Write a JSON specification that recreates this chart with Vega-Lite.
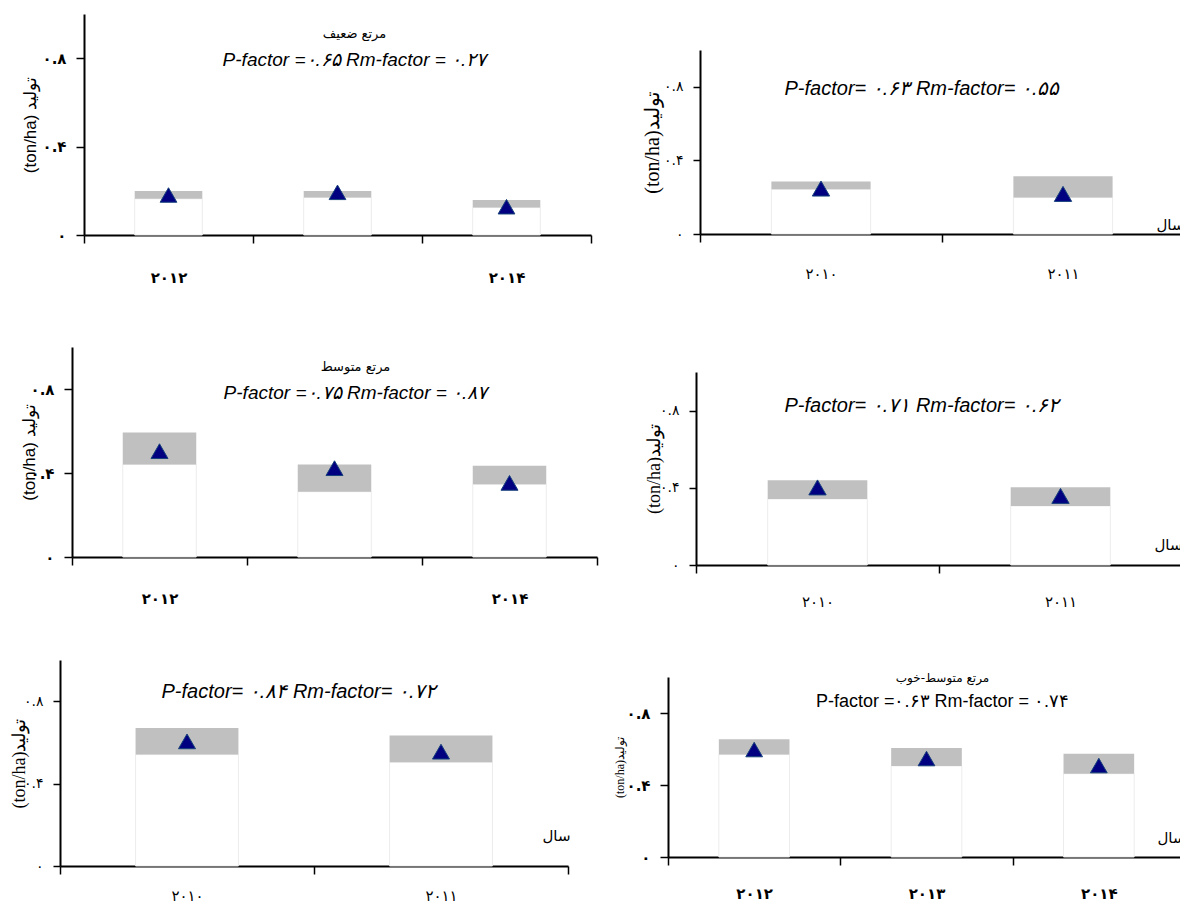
{
  "$schema": "https://vega.github.io/schema/vega-lite/v6.json",
  "padding": {"left": 10, "top": 14, "right": 0, "bottom": 0},
  "background": "white",
  "datasets": {
    "p1": [
      {"year": "۲۰۱۲", "lo": 0.164, "hi": 0.199, "obs": 0.181},
      {"year": "۲۰۱۳", "lo": 0.170, "hi": 0.199, "obs": 0.193},
      {"year": "۲۰۱۴", "lo": 0.124, "hi": 0.158, "obs": 0.128}
    ],
    "p2": [
      {"year": "۲۰۱۰", "lo": 0.243, "hi": 0.286, "obs": 0.247},
      {"year": "۲۰۱۱", "lo": 0.198, "hi": 0.314, "obs": 0.218}
    ],
    "p3": [
      {"year": "۲۰۱۲", "lo": 0.441, "hi": 0.593, "obs": 0.504},
      {"year": "۲۰۱۳", "lo": 0.311, "hi": 0.441, "obs": 0.423},
      {"year": "۲۰۱۴", "lo": 0.346, "hi": 0.434, "obs": 0.353}
    ],
    "p4": [
      {"year": "۲۰۱۰", "lo": 0.342, "hi": 0.439, "obs": 0.402},
      {"year": "۲۰۱۱", "lo": 0.306, "hi": 0.403, "obs": 0.358}
    ],
    "p5": [
      {"year": "۲۰۱۰", "lo": 0.541, "hi": 0.670, "obs": 0.605},
      {"year": "۲۰۱۱", "lo": 0.504, "hi": 0.633, "obs": 0.555}
    ],
    "p6": [
      {"year": "۲۰۱۲", "lo": 0.569, "hi": 0.654, "obs": 0.597},
      {"year": "۲۰۱۳", "lo": 0.506, "hi": 0.606, "obs": 0.547},
      {"year": "۲۰۱۴", "lo": 0.463, "hi": 0.574, "obs": 0.508}
    ]
  },
  "columns": 2,
  "align": "each",
  "bounds": "flush",
  "spacing": {"row": 95, "column": 71},
  "concat": [
    {
      "width": 531, "height": 238,
      "data": {"name": "p1"},
      "title": {"text": "مرتع ضعیف", "subtitle": "P-factor =۰.۶۵ Rm-factor = ۰.۲۷", "frame": "group", "anchor": "middle", "offset": -56, "dx": 29, "font": "DejaVu Sans", "fontSize": 13, "fontWeight": "normal", "subtitleFont": "Liberation Sans", "subtitleFontSize": 19, "subtitleFontStyle": "italic", "subtitleColor": "#000", "subtitlePadding": 10},
      "encoding": {
        "x": {"field": "year", "type": "nominal", "sort": null, "scale": {"paddingInner": 0, "paddingOuter": 0, "range": [24, 531]},
          "axis": {"title": null, "offset": -17, "tickBand": "extent", "labelAngle": 0, "labelExpr": "datum.value == '۲۰۱۳' ? '' : datum.label", "labelFont": "DejaVu Sans", "labelFontSize": 15, "labelFontWeight": "bold", "labelPadding": 27}}
      },
      "layer": [
        {"mark": {"type": "bar", "width": {"band": 0.4}, "fill": "white", "stroke": "#ececec", "strokeWidth": 1},
          "encoding": {"y": {"field": "lo", "type": "quantitative", "title": "(ton/ha) تولید", "scale": {"domain": [0, 1], "nice": false, "range": [221, 0]},
            "axis": {"offset": -24, "values": [0, 0.4, 0.8], "labelExpr": "datum.value == 0 ? '۰' : datum.value < 0.5 ? '۰.۴' : '۰.۸'", "labelFont": "DejaVu Sans", "labelFontSize": 15, "labelFontWeight": "bold", "labelPadding": 10, "titleFont": "Liberation Sans", "titleFontSize": 17, "titleFontWeight": "normal", "titleX": -54, "titleBaseline": "middle"}}}},
        {"mark": {"type": "bar", "width": {"band": 0.4}, "fill": "#c0c0c0"},
          "encoding": {"y": {"field": "lo", "type": "quantitative", "title": "(ton/ha) تولید"}, "y2": {"field": "hi"}}},
        {"mark": {"type": "point", "shape": "triangle-up", "filled": true, "fill": "#000080", "stroke": "#17407a", "strokeWidth": 1, "size": 280, "opacity": 1},
          "encoding": {"y": {"field": "obs", "type": "quantitative", "title": "(ton/ha) تولید"}}}
      ]
    },
    {
      "width": 516, "height": 238,
      "data": {"name": "p2"},
      "title": {"text": "P-factor= ۰.۶۳ Rm-factor= ۰.۵۵", "frame": "group", "anchor": "middle", "offset": -85, "dx": -4, "font": "Liberation Sans Narrow, Liberation Sans", "fontSize": 20, "fontStyle": "italic", "fontWeight": "normal"},
      "encoding": {
        "x": {"field": "year", "type": "nominal", "sort": null, "scale": {"paddingInner": 0, "paddingOuter": 0, "range": [32, 516]},
          "axis": {"offset": -18, "title": "سال", "titleAnchor": "end", "titleAlign": "right", "titleX": 516, "titleY": -2, "titleBaseline": "bottom", "titleFont": "DejaVu Sans", "titleFontSize": 15, "titleFontWeight": "normal", "tickBand": "extent", "labelAngle": 0, "labelFont": "DejaVu Sans", "labelFontSize": 15, "labelFontWeight": "normal", "labelPadding": 24}}
      },
      "layer": [
        {"mark": {"type": "bar", "width": {"band": 0.41}, "fill": "white", "stroke": "#ececec", "strokeWidth": 1},
          "encoding": {"y": {"field": "lo", "type": "quantitative", "title": "(ton/ha)تولید", "scale": {"domain": [0, 1], "nice": false, "range": [220, 36]},
            "axis": {"offset": -32, "values": [0, 0.4, 0.8], "labelExpr": "datum.value == 0 ? '۰' : datum.value < 0.5 ? '۰.۴' : '۰.۸'", "labelFont": "DejaVu Sans", "labelFontSize": 14, "labelFontWeight": "normal", "labelPadding": 10, "tickSize": 7, "titleFont": "Liberation Serif", "titleFontSize": 20, "titleFontWeight": "normal", "titleX": -48, "titleBaseline": "middle"}}}},
        {"mark": {"type": "bar", "width": {"band": 0.41}, "fill": "#c0c0c0"},
          "encoding": {"y": {"field": "lo", "type": "quantitative", "title": "(ton/ha)تولید"}, "y2": {"field": "hi"}}},
        {"mark": {"type": "point", "shape": "triangle-up", "filled": true, "fill": "#000080", "stroke": "#17407a", "strokeWidth": 1, "size": 300, "opacity": 1},
          "encoding": {"y": {"field": "obs", "type": "quantitative", "title": "(ton/ha)تولید"}}}
      ]
    },
    {
      "width": 537, "height": 218,
      "data": {"name": "p3"},
      "title": {"text": "مرتع متوسط", "subtitle": "P-factor =۰.۷۵ Rm-factor = ۰.۸۷", "frame": "group", "anchor": "middle", "offset": -56, "dx": 27, "font": "DejaVu Sans", "fontSize": 13, "fontWeight": "normal", "subtitleFont": "Liberation Sans", "subtitleFontSize": 19, "subtitleFontStyle": "italic", "subtitleColor": "#000", "subtitlePadding": 10},
      "encoding": {
        "x": {"field": "year", "type": "nominal", "sort": null, "scale": {"paddingInner": 0, "paddingOuter": 0, "range": [12, 537]},
          "axis": {"title": null, "offset": -8, "tickBand": "extent", "labelAngle": 0, "labelExpr": "datum.value == '۲۰۱۳' ? '' : datum.label", "labelFont": "DejaVu Sans", "labelFontSize": 15, "labelFontWeight": "bold", "labelPadding": 26}}
      },
      "layer": [
        {"mark": {"type": "bar", "width": {"band": 0.42}, "fill": "white", "stroke": "#ececec", "strokeWidth": 1},
          "encoding": {"y": {"field": "lo", "type": "quantitative", "title": "(ton/ha) تولید", "scale": {"domain": [0, 1], "nice": false, "range": [210, 0]},
            "axis": {"offset": -12, "values": [0, 0.4, 0.8], "labelExpr": "datum.value == 0 ? '۰' : datum.value < 0.5 ? '۰.۴' : '۰.۸'", "labelFont": "DejaVu Sans", "labelFontSize": 15, "labelFontWeight": "bold", "labelPadding": 10, "titleFont": "Liberation Sans", "titleFontSize": 17, "titleFontWeight": "normal", "titleX": -43, "titleBaseline": "middle"}}}},
        {"mark": {"type": "bar", "width": {"band": 0.42}, "fill": "#c0c0c0"},
          "encoding": {"y": {"field": "lo", "type": "quantitative", "title": "(ton/ha) تولید"}, "y2": {"field": "hi"}}},
        {"mark": {"type": "point", "shape": "triangle-up", "filled": true, "fill": "#000080", "stroke": "#17407a", "strokeWidth": 1, "size": 290, "opacity": 1},
          "encoding": {"y": {"field": "obs", "type": "quantitative", "title": "(ton/ha) تولید"}}}
      ]
    },
    {
      "width": 514, "height": 218,
      "data": {"name": "p4"},
      "title": {"text": "P-factor= ۰.۷۱ Rm-factor= ۰.۶۲", "frame": "group", "anchor": "middle", "offset": -69, "dx": -3, "font": "Liberation Sans Narrow, Liberation Sans", "fontSize": 20, "fontStyle": "italic", "fontWeight": "normal"},
      "encoding": {
        "x": {"field": "year", "type": "nominal", "sort": null, "scale": {"paddingInner": 0, "paddingOuter": 0, "range": [28, 514]},
          "axis": {"title": "سال", "titleAnchor": "end", "titleAlign": "right", "titleX": 514, "titleY": -13, "titleBaseline": "bottom", "titleFont": "DejaVu Sans", "titleFontSize": 15, "titleFontWeight": "normal", "tickBand": "extent", "labelAngle": 0, "labelFont": "DejaVu Sans", "labelFontSize": 15, "labelFontWeight": "normal", "labelPadding": 21}}
      },
      "layer": [
        {"mark": {"type": "bar", "width": {"band": 0.41}, "fill": "white", "stroke": "#ececec", "strokeWidth": 1},
          "encoding": {"y": {"field": "lo", "type": "quantitative", "title": "(ton/ha)تولید", "scale": {"domain": [0, 1], "nice": false, "range": [218, 25]},
            "axis": {"offset": -28, "values": [0, 0.4, 0.8], "labelExpr": "datum.value == 0 ? '۰' : datum.value < 0.5 ? '۰.۴' : '۰.۸'", "labelFont": "DejaVu Sans", "labelFontSize": 14, "labelFontWeight": "normal", "labelPadding": 10, "tickSize": 7, "titleFont": "Liberation Serif", "titleFontSize": 18, "titleFontWeight": "normal", "titleX": -42, "titleBaseline": "middle"}}}},
        {"mark": {"type": "bar", "width": {"band": 0.41}, "fill": "#c0c0c0"},
          "encoding": {"y": {"field": "lo", "type": "quantitative", "title": "(ton/ha)تولید"}, "y2": {"field": "hi"}}},
        {"mark": {"type": "point", "shape": "triangle-up", "filled": true, "fill": "#000080", "stroke": "#17407a", "strokeWidth": 1, "size": 300, "opacity": 1},
          "encoding": {"y": {"field": "obs", "type": "quantitative", "title": "(ton/ha)تولید"}}}
      ]
    },
    {
      "width": 508, "height": 206,
      "data": {"name": "p5"},
      "title": {"text": "P-factor= ۰.۸۴ Rm-factor= ۰.۷۲", "frame": "group", "anchor": "middle", "offset": -42, "dx": -15, "font": "Liberation Sans Narrow, Liberation Sans", "fontSize": 20, "fontStyle": "italic", "fontWeight": "normal"},
      "encoding": {
        "x": {"field": "year", "type": "nominal", "sort": null, "scale": {"paddingInner": 0, "paddingOuter": 0},
          "axis": {"title": "سال", "titleAnchor": "end", "titleAlign": "right", "titleX": 510, "titleY": -23, "titleBaseline": "bottom", "titleFont": "DejaVu Sans", "titleFontSize": 15, "titleFontWeight": "normal", "tickBand": "extent", "labelAngle": 0, "labelFont": "DejaVu Sans", "labelFontSize": 15, "labelFontWeight": "normal", "labelPadding": 14}}
      },
      "layer": [
        {"mark": {"type": "bar", "width": {"band": 0.405}, "fill": "white", "stroke": "#ececec", "strokeWidth": 1},
          "encoding": {"y": {"field": "lo", "type": "quantitative", "title": "(ton/ha)تولید", "scale": {"domain": [0, 1], "nice": false},
            "axis": {"values": [0, 0.4, 0.8], "labelExpr": "datum.value == 0 ? '۰' : datum.value < 0.5 ? '۰.۴' : '۰.۸'", "labelFont": "DejaVu Sans", "labelFontSize": 14, "labelFontWeight": "normal", "labelPadding": 10, "tickSize": 7, "titleFont": "Liberation Serif", "titleFontSize": 18, "titleFontWeight": "normal", "titleX": -41, "titleBaseline": "middle"}}}},
        {"mark": {"type": "bar", "width": {"band": 0.405}, "fill": "#c0c0c0"},
          "encoding": {"y": {"field": "lo", "type": "quantitative", "title": "(ton/ha)تولید"}, "y2": {"field": "hi"}}},
        {"mark": {"type": "point", "shape": "triangle-up", "filled": true, "fill": "#000080", "stroke": "#17407a", "strokeWidth": 1, "size": 290, "opacity": 1},
          "encoding": {"y": {"field": "obs", "type": "quantitative", "title": "(ton/ha)تولید"}}}
      ]
    },
    {
      "width": 517, "height": 197,
      "data": {"name": "p6"},
      "title": {"text": "مرتع متوسط-خوب", "subtitle": "P-factor =۰.۶۳ Rm-factor = ۰.۷۴", "frame": "group", "anchor": "middle", "offset": -52, "dx": 16, "font": "DejaVu Sans", "fontSize": 12, "fontWeight": "normal", "subtitleFont": "Liberation Sans", "subtitleFontSize": 18, "subtitleFontStyle": "normal", "subtitleColor": "#000", "subtitlePadding": 8},
      "encoding": {
        "x": {"field": "year", "type": "nominal", "sort": null, "scale": {"paddingInner": 0, "paddingOuter": 0},
          "axis": {"title": "سال", "titleAnchor": "end", "titleAlign": "right", "titleX": 517, "titleY": -12, "titleBaseline": "bottom", "titleFont": "DejaVu Sans", "titleFontSize": 15, "titleFontWeight": "normal", "tickBand": "extent", "labelAngle": 0, "labelFont": "DejaVu Sans", "labelFontSize": 15, "labelFontWeight": "bold", "labelPadding": 21}}
      },
      "layer": [
        {"mark": {"type": "bar", "width": {"band": 0.41}, "fill": "white", "stroke": "#ececec", "strokeWidth": 1},
          "encoding": {"y": {"field": "lo", "type": "quantitative", "title": "(ton/ha)تولید", "scale": {"domain": [0, 1], "nice": false, "range": [197, 17]},
            "axis": {"values": [0, 0.4, 0.8], "labelExpr": "datum.value == 0 ? '۰' : datum.value < 0.5 ? '۰.۴' : '۰.۸'", "labelFont": "DejaVu Sans", "labelFontSize": 15, "labelFontWeight": "bold", "labelPadding": 10, "titleFont": "Liberation Serif", "titleFontSize": 12, "titleFontWeight": "normal", "titleX": -49, "titleBaseline": "middle"}}}},
        {"mark": {"type": "bar", "width": {"band": 0.41}, "fill": "#c0c0c0"},
          "encoding": {"y": {"field": "lo", "type": "quantitative", "title": "(ton/ha)تولید"}, "y2": {"field": "hi"}}},
        {"mark": {"type": "point", "shape": "triangle-up", "filled": true, "fill": "#000080", "stroke": "#17407a", "strokeWidth": 1, "size": 280, "opacity": 1},
          "encoding": {"y": {"field": "obs", "type": "quantitative", "title": "(ton/ha)تولید"}}}
      ]
    }
  ],
  "config": {
    "view": {"stroke": null},
    "axis": {"grid": false, "domainColor": "#000", "domainWidth": 2, "tickColor": "#000", "tickWidth": 1.5, "tickSize": 8, "labelColor": "#000", "titleColor": "#000", "labelFlush": false, "labelOverlap": false},
    "title": {"color": "#000"}
  }
}
